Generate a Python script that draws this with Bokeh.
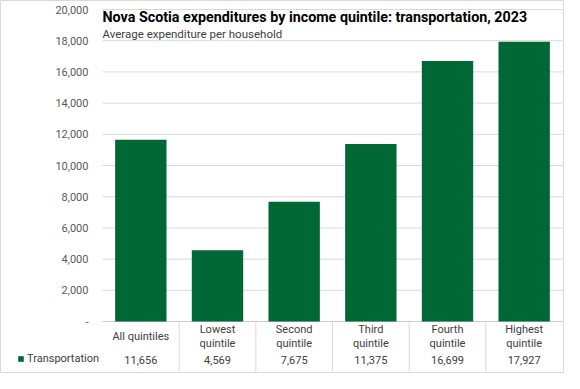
from bokeh.plotting import figure
from bokeh.models import Range1d, Legend, LegendItem, ColumnDataSource, Label
from bokeh.core.properties import value
from bokeh.embed import file_html
from bokeh.resources import INLINE

# ---- data ----
categories = ["All quintiles", "Lowest quintile", "Second quintile",
              "Third quintile", "Fourth quintile", "Highest quintile"]
table_labels = ["All quintiles", "Lowest\nquintile", "Second\nquintile",
                "Third\nquintile", "Fourth\nquintile", "Highest\nquintile"]
transportation = [11656, 4569, 7675, 11375, 16699, 17927]
y_ticks = [0, 2000, 4000, 6000, 8000, 10000, 12000, 14000, 16000, 18000, 20000]
y_tick_labels = ["-", "2,000", "4,000", "6,000", "8,000", "10,000", "12,000",
                 "14,000", "16,000", "18,000", "20,000"]
series_name = "Transportation"
title_text = "Nova Scotia expenditures by income quintile: transportation, 2023"
subtitle_text = "Average expenditure per household"

GREEN = "#006834"
GRID = "#d9d9d9"
FONT = "Roboto"
TEXT = "#404040"

# layout constants (data units of the frame)
X_START, X_END = -1.3304, 6.0261
Y_START, Y_END = -3333, 20577
TABLE_BOTTOM = -3205
TABLE_LABEL_Y = -968
TABLE_VALUE_Y = -2481
TICK_LABEL_X = -0.183

n = len(categories)
xc = [i + 0.5 for i in range(n)]

p = figure(width=564, height=373, output_backend="svg", toolbar_location=None,
           x_range=Range1d(X_START, X_END), y_range=Range1d(Y_START, Y_END),
           min_border=0)
p.xaxis.visible = False
p.yaxis.visible = False
p.grid.visible = False
p.outline_line_color = GRID
p.background_fill_color = "white"
p.border_fill_color = "white"

# gridlines (2,000 .. 20,000)
grid_src = ColumnDataSource(dict(y=y_ticks[1:]))
p.segment(x0=0, x1=n, y0="y", y1="y", source=grid_src, line_color=GRID, line_width=1)
# zero line / table top
p.segment(x0=[0], x1=[n], y0=[0], y1=[0], line_color="#cccccc", line_width=1)

# bars
src = ColumnDataSource(dict(x=xc, val=transportation, lab=table_labels,
                            vtxt=[f"{v:,}" for v in transportation]))
bars = p.vbar(x="x", top="val", width=0.67, source=src, fill_color=GREEN, line_color=None)

# y tick labels
tick_src = ColumnDataSource(dict(y=y_ticks, t=y_tick_labels))
p.text(x=TICK_LABEL_X, y="y", text="t", source=tick_src, text_align="right",
       text_baseline="middle", text_font=value(FONT), text_font_size="11px",
       text_color="#595959")

# table separators
sep_src = ColumnDataSource(dict(x=list(range(1, n))))
p.segment(x0="x", x1="x", y0=0, y1=TABLE_BOTTOM, source=sep_src,
          line_color=GRID, line_width=1)

# table texts
p.text(x="x", y=TABLE_LABEL_Y, text="lab", source=src, text_align="center",
       text_baseline="middle", text_font=value(FONT), text_font_size="11px",
       text_color=TEXT, text_line_height=1.1)
p.text(x="x", y=TABLE_VALUE_Y, text="vtxt", source=src, text_align="center",
       text_baseline="middle", text_font=value(FONT), text_font_size="11px",
       text_color=TEXT)

# legend key in table row
legend = Legend(items=[LegendItem(label=series_name, renderers=[bars])],
                location=(17, 8), orientation="vertical",
                border_line_color=None, background_fill_alpha=0,
                padding=0, margin=0, spacing=0,
                glyph_width=7, glyph_height=7, label_height=11,
                label_standoff=3, label_text_font=FONT, label_text_font_size="11px",
                label_text_color=TEXT)
p.add_layout(legend, "center")

# title and subtitle
p.add_layout(Label(x=0, y=20064, text=title_text, text_font=FONT, text_font_size="14.3px",
                   text_font_style="bold", text_color="#000000", text_baseline="top"))
p.add_layout(Label(x=0, y=18910, text=subtitle_text, text_font=FONT,
                   text_font_size="11.5px", text_color=TEXT, text_baseline="top"))

open("out.html", "w").write(file_html(p, INLINE))
